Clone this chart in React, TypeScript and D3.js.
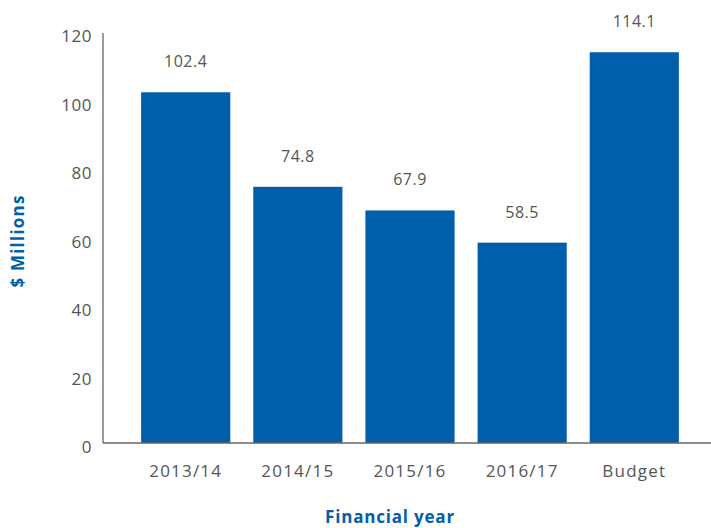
import React from "react";
import * as d3 from "d3";

const categories = ["2013/14", "2014/15", "2015/16", "2016/17", "Budget"];
const values = [102.4, 74.8, 67.9, 58.5, 114.1];
const valueLabels = ["102.4", "74.8", "67.9", "58.5", "114.1"];
const yTicks = [0, 20, 40, 60, 80, 100, 120];

const W = 711;
const H = 528;
const x0 = 103;
const y0 = 443;
const yTop = 32;
const blue = "#005EAA";
const textGray = "#555555";
const font = "'Open Sans', 'Noto Sans', sans-serif";

export default function App() {
  const x = d3
    .scaleBand<string>()
    .domain(categories)
    .range([x0, 717])
    .paddingInner(0.205)
    .paddingOuter(0.34);
  const y = d3.scaleLinear().domain([0, 120]).range([y0, yTop]);

  return (
    <svg
      width={W}
      height={H}
      style={{ position: "absolute", left: 0, top: 0, background: "#fff" }}
    >
      {categories.map((c, i) => (
        <rect
          key={c}
          x={x(c)}
          y={y(values[i])}
          width={x.bandwidth()}
          height={y0 - y(values[i])}
          fill={blue}
        />
      ))}
      {categories.map((c, i) => (
        <text
          key={"v" + c}
          x={(x(c) as number) + x.bandwidth() / 2}
          y={y(values[i]) - 25}
          textAnchor="middle"
          fontFamily={font}
          fontSize={16}
          letterSpacing={0.5}
          fill={textGray}
        >
          {valueLabels[i]}
        </text>
      ))}
      <line x1={x0} x2={x0} y1={yTop + 1} y2={y0} stroke="#666" strokeWidth={1.3} />
      <line x1={x0} x2={W} y1={y0} y2={y0} stroke="#666" strokeWidth={1.3} />
      {yTicks.map((t) => (
        <text
          key={"y" + t}
          x={92}
          y={y(t) + 10}
          textAnchor="end"
          fontFamily={font}
          fontSize={17}
          letterSpacing={0.5}
          fill={textGray}
        >
          {t}
        </text>
      ))}
      {categories.map((c) => (
        <text
          key={"x" + c}
          x={(x(c) as number) + x.bandwidth() / 2}
          y={477}
          textAnchor="middle"
          fontFamily={font}
          fontSize={17}
          letterSpacing={1.2}
          fill={textGray}
        >
          {c}
        </text>
      ))}
      <text
        x={390}
        y={523}
        textAnchor="middle"
        fontFamily={font}
        fontWeight="bold"
        fontSize={17}
        letterSpacing={0.8}
        fill={blue}
      >
        Financial year
      </text>
      <text
        transform={`translate(24, 241) rotate(-90)`}
        textAnchor="middle"
        fontFamily={font}
        fontWeight="bold"
        fontSize={17}
        letterSpacing={1.2}
        fill={blue}
      >
        $ Millions
      </text>
    </svg>
  );
}
